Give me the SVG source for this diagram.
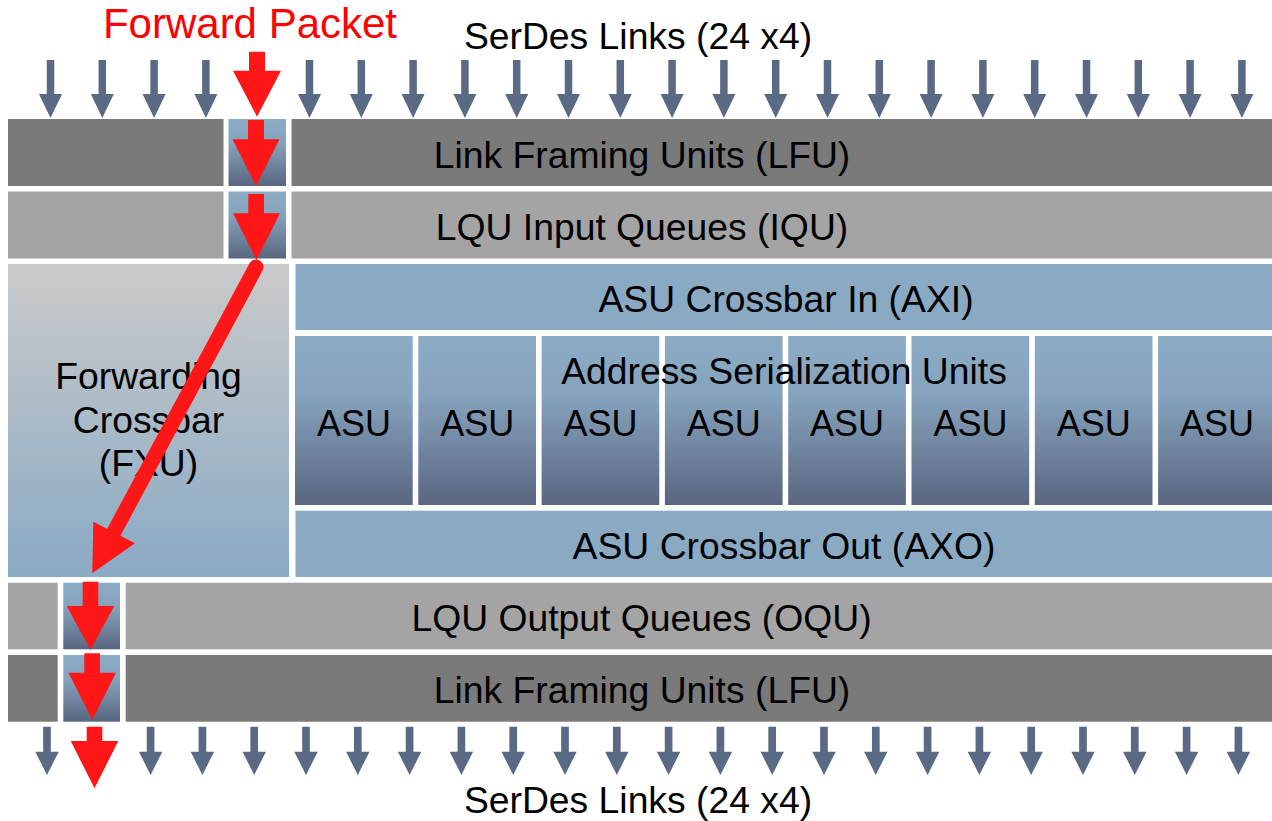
<svg xmlns="http://www.w3.org/2000/svg" xmlns:xlink="http://www.w3.org/1999/xlink" width="1272" height="821" viewBox="0 0 1272 821">
  <style>
    text { font-family: "Liberation Sans", Arial, sans-serif; font-size: 37.3px; fill: #000; text-anchor: middle; }
    .title { fill: #ff0000; font-size: 42px; }
    .unit { font-size: 36px; }
    .lfu { fill: #7a7a7a; }
    .lqu { fill: #a4a4a4; }
    .axu { fill: #8aaac4; }
    .cell { fill: url(#gCell); }
    .fxu { fill: url(#gFxu); }
    .link { fill: #5b6a84; }
    .pkt { fill: #ff1616; }
  </style>
  <defs>
    <linearGradient id="gCell" x1="0" y1="0" x2="0" y2="1">
      <stop offset="0" stop-color="#8babc5"/>
      <stop offset="0.35" stop-color="#86a3bd"/>
      <stop offset="1" stop-color="#5a6680"/>
    </linearGradient>
    <linearGradient id="gFxu" x1="0" y1="0" x2="0" y2="1">
      <stop offset="0" stop-color="#cacaca"/>
      <stop offset="1" stop-color="#8aaac4"/>
    </linearGradient>
    <!-- SerDes link arrows, drawn at x = 0 -->
    <path id="linkIn" d="M-3.75,60 h7.5 v34 h7.75 l-11.5,24 l-11.5,-24 h7.75 z"/>
    <path id="linkOut" d="M-3.85,726.7 h7.7 v25 h7.85 l-11.7,23.3 l-11.7,-23.3 h7.85 z"/>
  </defs>

  <!-- Titles -->
  <text class="title" x="250" y="38">Forward Packet</text>
  <text x="638" y="49">SerDes Links (24 x4)</text>
  <text x="638" y="813">SerDes Links (24 x4)</text>

  <!-- Ingress link framing -->
  <g id="lfu-in">
    <rect class="lfu" x="8" y="119" width="215.5" height="67"/>
    <rect class="cell" x="228.5" y="119" width="57.5" height="67"/>
    <rect class="lfu" x="291.5" y="119" width="980.5" height="67"/>
    <text x="642" y="168">Link Framing Units (LFU)</text>
  </g>

  <!-- Input queues -->
  <g id="iqu">
    <rect class="lqu" x="8" y="191.5" width="215.5" height="67"/>
    <rect class="cell" x="228.5" y="191.5" width="57.5" height="67"/>
    <rect class="lqu" x="291.5" y="191.5" width="980.5" height="67"/>
    <text x="642" y="240">LQU Input Queues (IQU)</text>
  </g>

  <!-- Forwarding crossbar -->
  <g id="fxu">
    <rect class="fxu" x="8" y="264" width="281" height="313"/>
    <text x="148.5" y="389">Forwarding</text>
    <text x="148.5" y="433">Crossbar</text>
    <text x="148.5" y="476">(FXU)</text>
  </g>

  <!-- ASU crossbar in -->
  <g id="axi">
    <rect class="axu" x="295.5" y="264" width="976.5" height="66"/>
    <text x="786" y="312">ASU Crossbar In (AXI)</text>
  </g>

  <!-- Address serialization units -->
  <g id="asu">
    <rect class="cell" x="295" y="336" width="117.7" height="169"/>
    <rect class="cell" x="418.3" y="336" width="117.7" height="169"/>
    <rect class="cell" x="541.6" y="336" width="117.7" height="169"/>
    <rect class="cell" x="664.9" y="336" width="117.7" height="169"/>
    <rect class="cell" x="788.2" y="336" width="117.7" height="169"/>
    <rect class="cell" x="911.5" y="336" width="117.7" height="169"/>
    <rect class="cell" x="1034.8" y="336" width="117.7" height="169"/>
    <rect class="cell" x="1158.1" y="336" width="117.7" height="169"/>
    <text class="unit" x="353.9" y="436">ASU</text>
    <text class="unit" x="477.2" y="436">ASU</text>
    <text class="unit" x="600.5" y="436">ASU</text>
    <text class="unit" x="723.8" y="436">ASU</text>
    <text class="unit" x="847.1" y="436">ASU</text>
    <text class="unit" x="970.4" y="436">ASU</text>
    <text class="unit" x="1093.7" y="436">ASU</text>
    <text class="unit" x="1217" y="436">ASU</text>
    <text x="784" y="383.5">Address Serialization Units</text>
  </g>

  <!-- ASU crossbar out -->
  <g id="axo">
    <rect class="axu" x="295.5" y="510.7" width="976.5" height="66.3"/>
    <text x="784" y="559">ASU Crossbar Out (AXO)</text>
  </g>

  <!-- Output queues -->
  <g id="oqu">
    <rect class="lqu" x="8" y="582.7" width="49.7" height="66.6"/>
    <rect class="cell" x="63.3" y="582.7" width="56.7" height="66.6"/>
    <rect class="lqu" x="125.7" y="582.7" width="1146.3" height="66.6"/>
    <text x="641.5" y="631">LQU Output Queues (OQU)</text>
  </g>

  <!-- Egress link framing -->
  <g id="lfu-out">
    <rect class="lfu" x="8" y="655" width="49.7" height="66.7"/>
    <rect class="cell" x="63.3" y="655" width="56.7" height="66.7"/>
    <rect class="lfu" x="125.7" y="655" width="1146.3" height="66.7"/>
    <text x="642" y="703">Link Framing Units (LFU)</text>
  </g>

  <g id="connectors">
    <!-- ingress SerDes links -->
    <g class="link">
      <use xlink:href="#linkIn" x="50.5"/>
      <use xlink:href="#linkIn" x="102.3"/>
      <use xlink:href="#linkIn" x="154.1"/>
      <use xlink:href="#linkIn" x="205.9"/>
      <use xlink:href="#linkIn" x="309.5"/>
      <use xlink:href="#linkIn" x="361.3"/>
      <use xlink:href="#linkIn" x="413.1"/>
      <use xlink:href="#linkIn" x="464.9"/>
      <use xlink:href="#linkIn" x="516.7"/>
      <use xlink:href="#linkIn" x="568.5"/>
      <use xlink:href="#linkIn" x="620.3"/>
      <use xlink:href="#linkIn" x="672.1"/>
      <use xlink:href="#linkIn" x="723.9"/>
      <use xlink:href="#linkIn" x="775.7"/>
      <use xlink:href="#linkIn" x="827.5"/>
      <use xlink:href="#linkIn" x="879.3"/>
      <use xlink:href="#linkIn" x="931.1"/>
      <use xlink:href="#linkIn" x="982.9"/>
      <use xlink:href="#linkIn" x="1034.7"/>
      <use xlink:href="#linkIn" x="1086.5"/>
      <use xlink:href="#linkIn" x="1138.3"/>
      <use xlink:href="#linkIn" x="1190.1"/>
      <use xlink:href="#linkIn" x="1241.9"/>
    </g>
    <!-- egress SerDes links -->
    <g class="link">
      <use xlink:href="#linkOut" x="47"/>
      <use xlink:href="#linkOut" x="150.6"/>
      <use xlink:href="#linkOut" x="202.4"/>
      <use xlink:href="#linkOut" x="254.2"/>
      <use xlink:href="#linkOut" x="306"/>
      <use xlink:href="#linkOut" x="357.8"/>
      <use xlink:href="#linkOut" x="409.6"/>
      <use xlink:href="#linkOut" x="461.4"/>
      <use xlink:href="#linkOut" x="513.2"/>
      <use xlink:href="#linkOut" x="565"/>
      <use xlink:href="#linkOut" x="616.8"/>
      <use xlink:href="#linkOut" x="668.6"/>
      <use xlink:href="#linkOut" x="720.4"/>
      <use xlink:href="#linkOut" x="772.2"/>
      <use xlink:href="#linkOut" x="824"/>
      <use xlink:href="#linkOut" x="875.8"/>
      <use xlink:href="#linkOut" x="927.6"/>
      <use xlink:href="#linkOut" x="979.4"/>
      <use xlink:href="#linkOut" x="1031.2"/>
      <use xlink:href="#linkOut" x="1083"/>
      <use xlink:href="#linkOut" x="1134.8"/>
      <use xlink:href="#linkOut" x="1186.6"/>
      <use xlink:href="#linkOut" x="1238.4"/>
    </g>

    <!-- forwarded packet path -->
    <g class="pkt">
      <path d="M249,51.7 h16 v19 h16 l-24,46 l-24,-46 h16 z"/>
      <path d="M248,120 h16 v19.3 h15.5 l-23.5,46.7 l-23.5,-46.7 h15.5 z"/>
      <path d="M248.3,194 h15.7 v19.3 h16 l-23.5,46.7 l-23.5,-46.7 h15.3 z"/>
      <line x1="256" y1="267" x2="114" y2="532" stroke="#ff1616" stroke-width="15" stroke-linecap="round"/>
      <polygon points="93.3,521.7 92.3,573.3 135,543.3"/>
      <path d="M82.7,581.7 h15.6 v24.3 h16 l-23.8,44 l-23.8,-44 h16 z"/>
      <path d="M84.3,653.3 h15.7 v19.4 h16 l-23.8,47.3 l-23.8,-47.3 h15.9 z"/>
      <path d="M86.7,726.7 h15.6 v14.3 h16 l-23.8,47.3 l-23.8,-47.3 h16 z"/>
    </g>
  </g>
</svg>
